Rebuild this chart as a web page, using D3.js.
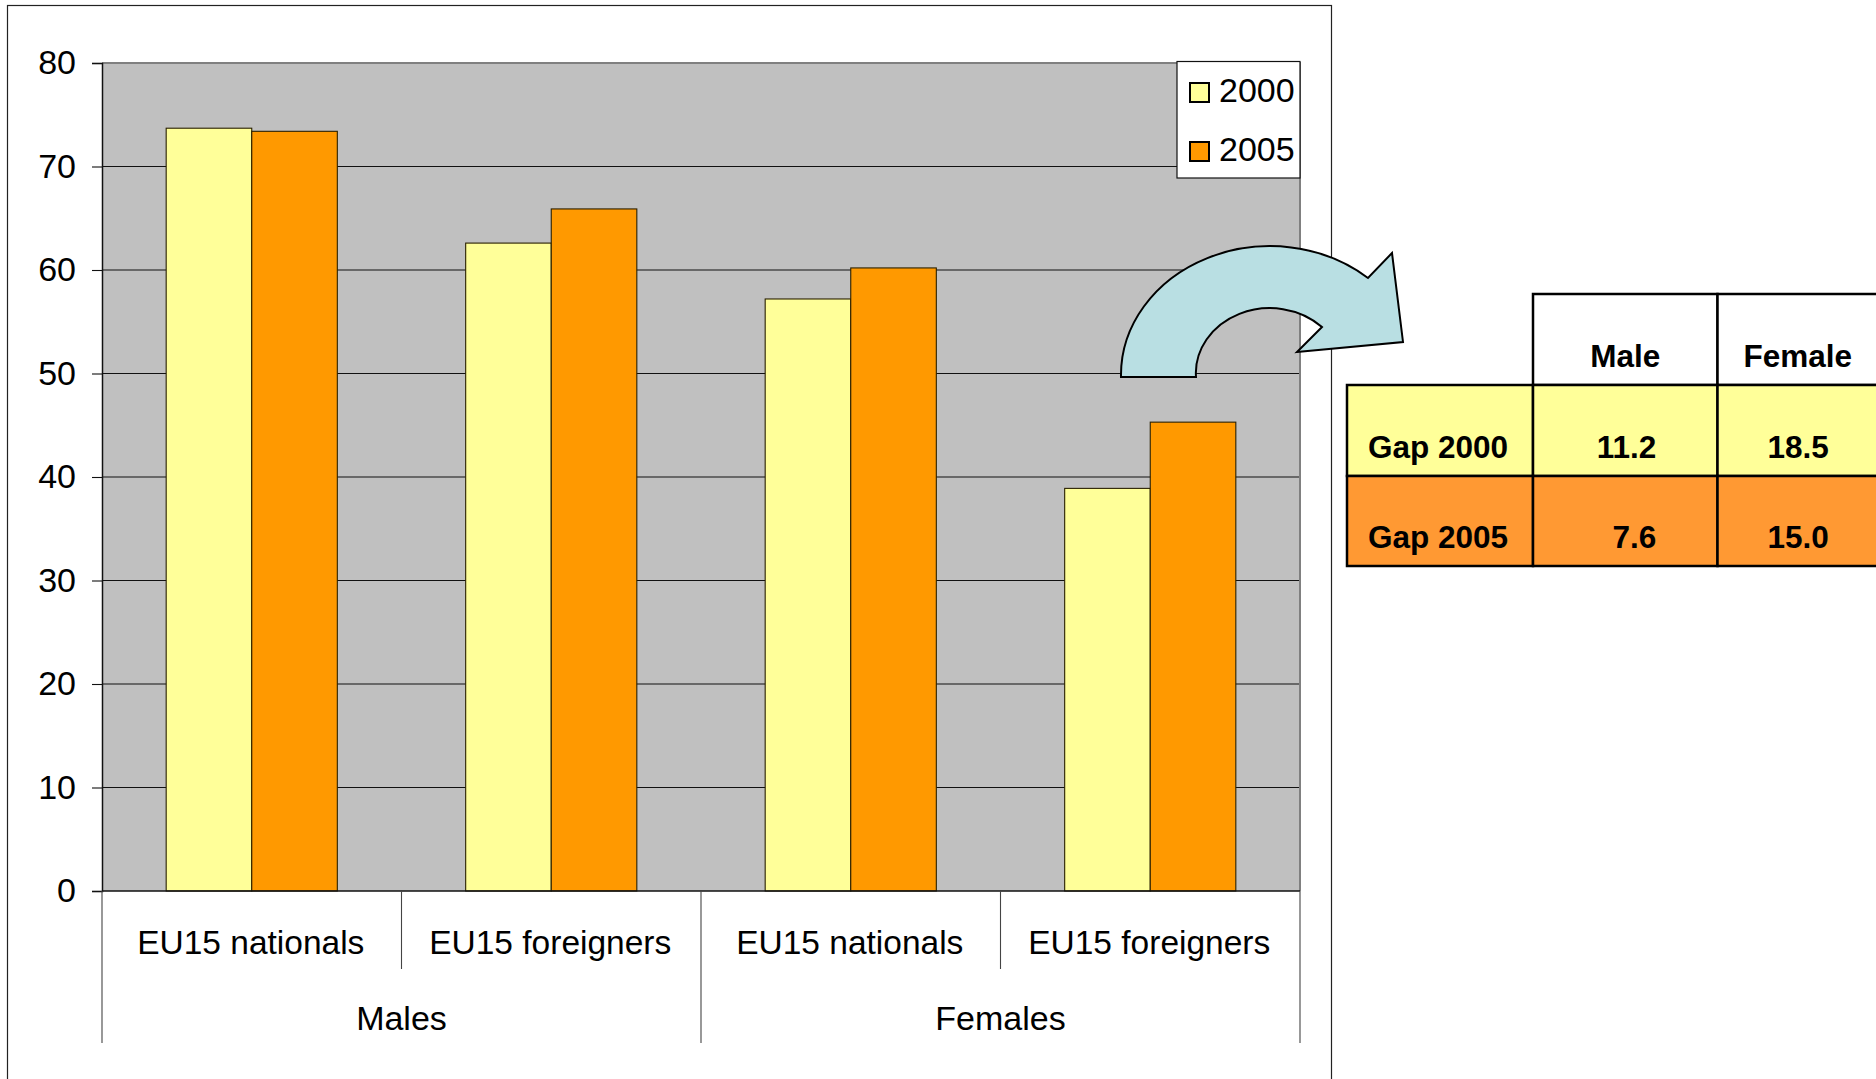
<!DOCTYPE html>
<html>
<head>
<meta charset="utf-8">
<script src="https://cdn.jsdelivr.net/npm/d3@7"></script>
<style>
  html, body { margin: 0; padding: 0; background: #fff; }
  svg { display: block; }
  text { font-family: "Liberation Sans", Arial, Helvetica, sans-serif; fill: #000; }
</style>
</head>
<body>
<svg id="chart" width="1876" height="1079"></svg>
<script>
// ---- Data ----
const categories = ["EU15 nationals", "EU15 foreigners", "EU15 nationals", "EU15 foreigners"];
const groups = ["Males", "Females"];
const series = ["2000", "2005"];
const values2000 = [73.7, 62.6, 57.2, 38.9];
const values2005 = [73.4, 65.9, 60.2, 45.3];
const yTicks = [0, 10, 20, 30, 40, 50, 60, 70, 80];
const seriesColors = ["#FFFF99", "#FF9900"];

const tableCols = ["Male", "Female"];
const tableRows = ["Gap 2000", "Gap 2005"];
const gapMale = [11.2, 7.6];
const gapFemale = [18.5, 15.0];
const rowColors = ["#FFFF99", "#FF9933"];

// ---- Layout ----
const svg = d3.select("#chart");
const plot = { left: 102, right: 1300, top: 63, bottom: 891 };

// chart area border
svg.append("rect").attr("x", 7.5).attr("y", 5.5).attr("width", 1324).attr("height", 1100)
  .attr("fill", "#fff").attr("stroke", "#222").attr("stroke-width", 1.2);

const y = d3.scaleLinear().domain([0, 80]).range([plot.bottom, plot.top]);
const x0 = d3.scaleBand().domain(d3.range(categories.length)).range([plot.left, plot.right]).paddingInner(0).paddingOuter(0);
const x1 = d3.scaleBand().domain(series).range([0, x0.bandwidth()]).paddingInner(0).paddingOuter(0.75);

// plot background
svg.append("rect").attr("x", plot.left).attr("y", plot.top)
  .attr("width", plot.right - plot.left).attr("height", plot.bottom - plot.top)
  .attr("fill", "#C0C0C0");

// gridlines
svg.append("g").selectAll("line").data(yTicks.filter(t => t > 0 && t < 80)).join("line")
  .attr("x1", plot.left).attr("x2", plot.right)
  .attr("y1", d => y(d)).attr("y2", d => y(d))
  .attr("stroke", "#111").attr("stroke-width", 1.1);

// plot border (top & right gray)
svg.append("line").attr("x1", plot.left).attr("x2", plot.right + 1).attr("y1", plot.top).attr("y2", plot.top)
  .attr("stroke", "#808080").attr("stroke-width", 2);
svg.append("line").attr("x1", plot.right).attr("x2", plot.right).attr("y1", plot.top).attr("y2", plot.bottom)
  .attr("stroke", "#808080").attr("stroke-width", 2);

// bars
const barData = [];
categories.forEach((c, i) => {
  barData.push({ i, s: series[0], v: values2000[i], color: seriesColors[0] });
  barData.push({ i, s: series[1], v: values2005[i], color: seriesColors[1] });
});
svg.append("g").selectAll("rect").data(barData).join("rect")
  .attr("x", d => x0(d.i) + x1(d.s))
  .attr("y", d => y(d.v))
  .attr("width", x1.bandwidth())
  .attr("height", d => y(0) - y(d.v))
  .attr("fill", d => d.color)
  .attr("stroke", "#2a2000").attr("stroke-width", 1.1);

// y axis
const yAxis = d3.axisLeft(y).tickValues(yTicks).tickSize(10).tickPadding(16);
const gy = svg.append("g").attr("transform", `translate(${plot.left},0)`).call(yAxis);
gy.select(".domain").attr("stroke", "#111").attr("stroke-width", 1.5);
gy.selectAll(".tick line").attr("stroke", "#111").attr("stroke-width", 1.1);
gy.selectAll(".tick text").attr("font-size", 34).attr("font-family", "Liberation Sans, Arial, sans-serif").attr("fill", "#000").attr("dy", "0.32em");

// x axis line
svg.append("line").attr("x1", plot.left).attr("x2", plot.right).attr("y1", plot.bottom).attr("y2", plot.bottom)
  .attr("stroke", "#111").attr("stroke-width", 1.5);

// category separators (short) and group separators (long)
const catBounds = d3.range(categories.length + 1).map(i => i < categories.length ? x0(i) : plot.right);
svg.append("g").selectAll("line").data(catBounds).join("line")
  .attr("x1", d => d).attr("x2", d => d)
  .attr("y1", plot.bottom)
  .attr("y2", (d, i) => (i % 2 === 0) ? 1043 : 969)
  .attr("stroke", "#444").attr("stroke-width", 1.1);

// category labels
svg.append("g").selectAll("text").data(categories).join("text")
  .attr("x", (d, i) => x0(i) + x0.bandwidth() / 2 - 1)
  .attr("y", 954)
  .attr("text-anchor", "middle").attr("font-size", 33.5)
  .text(d => d);

// group labels
svg.append("g").selectAll("text").data(groups).join("text")
  .attr("x", (d, i) => (x0(i * 2) + (i * 2 + 2 < categories.length ? x0(i * 2 + 2) : plot.right)) / 2)
  .attr("y", 1030)
  .attr("text-anchor", "middle").attr("font-size", 34)
  .text(d => d);

// legend
const lg = svg.append("g");
lg.append("rect").attr("x", 1177).attr("y", 61.5).attr("width", 123).attr("height", 116.5)
  .attr("fill", "#fff").attr("stroke", "#111").attr("stroke-width", 1.2);
series.forEach((s, i) => {
  const yy = 83 + i * 59;
  lg.append("rect").attr("x", 1190).attr("y", yy).attr("width", 19).attr("height", 19)
    .attr("fill", seriesColors[i]).attr("stroke", "#000").attr("stroke-width", 2);
  lg.append("text").attr("x", 1219).attr("y", yy + 19).attr("font-size", 34).text(s);
});

// curved arrow annotation
svg.append("path")
  .attr("d", "M 1121 377 A 149 129 0 0 1 1368 278 L 1392 253 L 1403 342 L 1297 352 L 1322 327 A 74 65 0 0 0 1196 377 Z")
  .attr("fill", "#B9DFE3").attr("stroke", "#000").attr("stroke-width", 2).attr("stroke-linejoin", "miter");

// table
const tbl = svg.append("g");
const colX = [1347, 1533, 1717.5, 1878];
const rowY = [294, 385, 476, 566];
// header cells
tableCols.forEach((c, j) => {
  tbl.append("rect").attr("x", colX[j + 1]).attr("y", rowY[0])
    .attr("width", colX[j + 2] - colX[j + 1]).attr("height", rowY[1] - rowY[0])
    .attr("fill", "#fff").attr("stroke", "#000").attr("stroke-width", 2.5);
  tbl.append("text").attr("x", (colX[j + 1] + colX[j + 2]) / 2).attr("y", rowY[1] - 18)
    .attr("text-anchor", "middle").attr("font-size", 31.5).attr("font-weight", "bold").text(c);
});
// data rows
tableRows.forEach((r, i) => {
  const vals = [gapMale[i], gapFemale[i]];
  for (let j = 0; j < 3; j++) {
    tbl.append("rect").attr("x", colX[j]).attr("y", rowY[i + 1])
      .attr("width", colX[j + 1] - colX[j]).attr("height", rowY[i + 2] - rowY[i + 1])
      .attr("fill", rowColors[i]).attr("stroke", "#000").attr("stroke-width", 2.5);
  }
  tbl.append("text").attr("x", colX[0] + 21).attr("y", rowY[i + 2] - 18)
    .attr("font-size", 31.5).attr("font-weight", "bold").text(r);
  vals.forEach((v, j) => {
    tbl.append("text").attr("x", (colX[j + 1] + colX[j + 2]) / 2 + 31).attr("y", rowY[i + 2] - 18)
      .attr("text-anchor", "end").attr("font-size", 31.5).attr("font-weight", "bold").text(v.toFixed(1));
  });
});
</script>
</body>
</html>
